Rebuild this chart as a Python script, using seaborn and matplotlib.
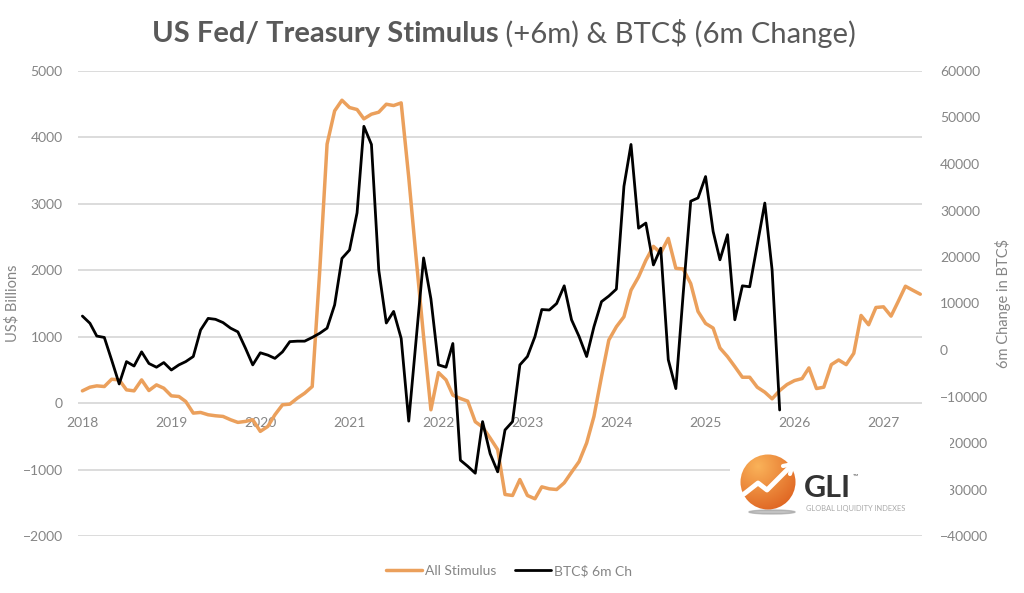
import numpy as np
import pandas as pd
import matplotlib
matplotlib.use('Agg')
import matplotlib.pyplot as plt
import matplotlib.dates as mdates
from matplotlib.lines import Line2D
from matplotlib.patches import Circle, Ellipse
import seaborn as sns

# monthly values, starting Jan 2018
stimulus = [185, 240, 260, 250, 360, 350, 200, 185, 350, 190, 275, 225,
            110, 100, 25, -150, -140, -175, -190, -200, -250, -290, -275, -250,
            -425, -350, -175, -25, -15, 75, 150, 250, 2000, 3900, 4400, 4560,
            4450, 4420, 4280, 4350, 4380, 4500, 4480, 4520, 3400, 2200, 1000, -100,
            460, 350, 120, 70, 30, -280, -360, -525, -700, -1375, -1390, -1150,
            -1390, -1440, -1260, -1290, -1300, -1200, -1040, -880, -600, -200, 400, 950,
            1150, 1300, 1700, 1900, 2150, 2360, 2260, 2480, 2030, 2020, 1800, 1380,
            1200, 1130, 830, 700, 550, 390, 390, 240, 165, 65, 190, 280,
            340, 370, 530, 220, 240, 580, 650, 580, 750, 1320, 1180, 1440,
            1450, 1310, 1520, 1760, 1700, 1640]
btc_6m = [7300, 5750, 3000, 2700, -2150, -7300, -2500, -3450, -400, -2900, -3700, -2700,
          -4300, -3200, -2500, -1400, 4300, 6800, 6600, 5900, 4700, 3900, 400, -3200,
          -600, -1100, -1800, -400, 1800, 1900, 1900, 2700, 3600, 4700, 9700, 19700,
          21500, 29500, 48100, 44200, 17200, 5800, 8300, 2500, -15300, 2000, 19800, 11000,
          -3200, -3700, 1400, -23700, -25000, -26500, -15400, -22300, -26200, -17200, -15400, -3200,
          -1400, 2900, 8700, 8600, 10000, 13800, 6500, 2900, -1400, 5000, 10400, 11600,
          13100, 35200, 44200, 26200, 27300, 18300, 21900, -2100, -8300, 12000, 32000, 32700,
          37300, 25500, 19400, 24800, 6500, 13800, 13600, 22600, 31600, 17200, -12900]
left_ticks = [-2000, -1000, 0, 1000, 2000, 3000, 4000, 5000]
right_ticks = [-40000, -30000, -20000, -10000, 0, 10000, 20000, 30000, 40000, 50000, 60000]

dates = pd.date_range('2018-01-01', periods=len(stimulus), freq='MS')
stim_df = pd.DataFrame({'date': dates, 'All Stimulus': stimulus})
btc_df = pd.DataFrame({'date': dates[:len(btc_6m)], 'BTC$ 6m Ch': btc_6m})

ORANGE = '#EBA05C'
GREY = '#858585'

sns.set_style('white')
plt.rcParams['font.family'] = ['Lato', 'DejaVu Sans']

fig = plt.figure(figsize=(10.24, 5.93), dpi=100)
ax = fig.add_axes([78/1024, 1-536/593, 844/1024, 465/593])
ax2 = ax.twinx()

sns.lineplot(data=stim_df, x='date', y='All Stimulus', ax=ax, color=ORANGE, linewidth=2.5, legend=False)
sns.lineplot(data=btc_df, x='date', y='BTC$ 6m Ch', ax=ax2, color='black', linewidth=2.0, legend=False)

ax.set_ylim(-2000, 5000)
ax.set_yticks(left_ticks)
ax2.set_ylim(-40000, 60000)
ax2.set_yticks(right_ticks)
ax.set_xlim(pd.Timestamp('2017-12-14'), pd.Timestamp('2027-06-08'))
ax.grid(axis='y', color='#d9d9d9', linewidth=1.3)
ax.grid(axis='x', visible=False)
ax.set_axisbelow(True)

ax.xaxis.set_major_locator(mdates.YearLocator())
ax.xaxis.set_major_formatter(mdates.DateFormatter('%Y'))
ax.spines['bottom'].set_position(('data', 0))
for a in (ax, ax2):
    for s in a.spines.values():
        s.set_visible(False)
ax.tick_params(axis='x', length=0, pad=10, labelsize=10, labelcolor=GREY)
ax.tick_params(axis='y', length=0, pad=11, labelsize=10, labelcolor=GREY)
ax2.tick_params(axis='y', length=0, pad=13, labelsize=10, labelcolor=GREY)

ax.set_xlabel('')
ax.set_ylabel('US$ Billions', fontsize=10.5, color=GREY)
ax2.set_ylabel('6m Change in BTC$', fontsize=10.5, color=GREY)
ax.yaxis.set_label_coords(-0.069, 0.5)
ax2.yaxis.set_label_coords(1.087, 0.5)

# title: bold part + regular part
TITLE_C = '#595959'
r = fig.canvas.get_renderer()
t1 = fig.text(0, 0.943, 'US Fed/ Treasury Stimulus', fontsize=21, fontweight='bold', color=TITLE_C, va='center')
t2 = fig.text(0, 0.943, ' (+6m) & BTC$ (6m Change)', fontsize=21, color=TITLE_C, va='center')
w1 = t1.get_window_extent(r).width
w2 = t2.get_window_extent(r).width
x0 = 504 - (w1 + w2) / 2
t1.set_x(x0 / 1024)
t2.set_x((x0 + w1) / 1024)

# legend
handles = [Line2D([], [], color=ORANGE, lw=2.5), Line2D([], [], color='black', lw=2.0)]
leg = fig.legend(handles, ['All Stimulus', 'BTC$ 6m Ch'], loc='center', bbox_to_anchor=(0.497, 1-571/593),
                 ncol=2, frameon=False, fontsize=10, handlelength=2.6, handletextpad=0.15, columnspacing=1.4)
for t in leg.get_texts():
    t.set_color(GREY)

# GLI logo block
lg = fig.add_axes([730/1024, 1-522/593, 220/1024, 90/593])
lg.set_facecolor('white')
lg.set_xlim(730, 950)
lg.set_ylim(522, 432)
lg.set_xticks([])
lg.set_yticks([])
for s in lg.spines.values():
    s.set_visible(False)
lg.add_patch(Ellipse((772, 512), 46, 4, color='#9a9a9a', alpha=0.6))
gx, gy = np.meshgrid(np.linspace(740, 796, 80), np.linspace(454, 510, 80))
d = np.hypot(gx - 758, gy - 466) / 55
grad = np.clip(d, 0, 1)
rgb = np.dstack([0.98 - 0.12 * grad, 0.70 - 0.35 * grad, 0.35 - 0.25 * grad])
img = lg.imshow(rgb, extent=(740, 796, 510, 454), interpolation='bilinear', zorder=2)
circ = Circle((768, 482), 27.5, transform=lg.transData, facecolor='none', edgecolor='none')
lg.add_patch(circ)
img.set_clip_path(circ)
lg.plot([744, 758, 767, 791], [494, 483, 490, 466], color='white', lw=3.5, solid_capstyle='round', zorder=3)
lg.plot([783, 793, 790], [466, 464, 474], color='white', lw=3, zorder=3)
lg.text(804, 488, 'GLI', fontsize=22, color='#333333', va='center', ha='left', fontweight='bold')
lg.text(853, 476, '™', fontsize=5, color='#555555', va='center')
lg.text(806, 508, 'GLOBAL LIQUIDITY INDEXES', fontsize=5.4, color='#aaaaaa', va='center', ha='left')

fig.savefig('out.png', dpi=100)
